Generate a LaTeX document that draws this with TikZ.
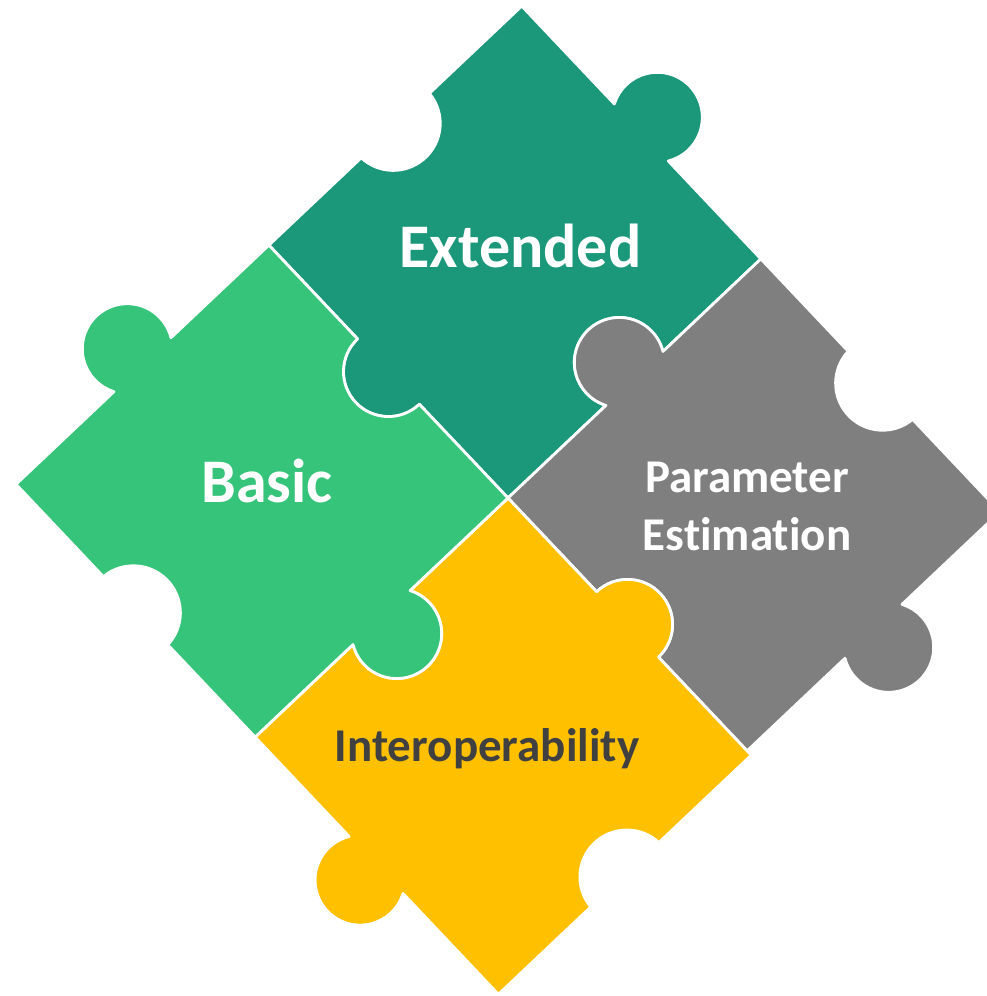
\documentclass[tikz,border=0pt]{standalone}
\usepackage{fontspec}
\setmainfont{Carlito}[Ligatures=NoCommon]
\definecolor{extteal}{HTML}{1B977A}
\definecolor{basicgreen}{HTML}{36C47A}
\definecolor{paramgray}{HTML}{7F7F7F}
\definecolor{interyellow}{HTML}{FFC000}
\definecolor{labeldark}{HTML}{404040}
\begin{document}
\begin{tikzpicture}[x=0.75pt,y=-0.75pt,
  piece/.style={draw=white, line width=2.1pt, line join=round},
  biglabel/.style={font=\bfseries\fontsize{46.5}{56}\selectfont, text=white, inner sep=0pt, anchor=base},
  smalllabel/.style={font=\bfseries\fontsize{35.25}{43.1}\selectfont, inner sep=0pt, anchor=base, align=center}]
\useasboundingbox (0,0) rectangle (987,996);
\clip (0,0) rectangle (987,996);
\coordinate (C) at (508,498);
% puzzle drawn in a square frame, tilted about 43 degrees
\begin{scope}[shift={(C)}, x={(0.54495pt,0.51533pt)}, y={(-0.51533pt,0.54495pt)}]
  % Extended
  \path[piece, fill=extteal] (0,0) -- (134.74,0) arc[start angle=209.27, end angle=-29.27, radius=45]
    -- (348,0) -- (348,134.74) arc[start angle=240.73, end angle=479.27, radius=45]
    -- (348,348) -- (220.9,348) arc[start angle=356.34, end angle=183.66, radius=47]
    -- (0,348) -- (0,219) arc[start angle=90, end angle=270, radius=45] -- cycle;
  % Parameter Estimation
  \path[piece, fill=paramgray] (0,-348) -- (134.74,-348) arc[start angle=150.73, end angle=389.27, radius=45]
    -- (348,-348) -- (348,-220.9) arc[start angle=266.34, end angle=93.66, radius=47]
    -- (348,0) -- (213.26,0) arc[start angle=330.73, end angle=569.27, radius=45]
    -- (0,0) -- (0,-129) arc[start angle=90, end angle=-90, radius=45] -- cycle;
  % Interoperability
  \path[piece, fill=interyellow] (-348,-354) -- (-220.9,-354) arc[start angle=176.34, end angle=3.66, radius=47]
    -- (0,-354) -- (0,-219) arc[start angle=270, end angle=450, radius=45]
    -- (0,0) -- (-134.74,0) arc[start angle=389.27, end angle=150.73, radius=45]
    -- (-348,0) -- (-348,-136.74) arc[start angle=420.73, end angle=659.27, radius=45] -- cycle;
  % Basic
  \path[piece, fill=basicgreen] (-348,0) -- (-213.26,0) arc[start angle=150.73, end angle=389.27, radius=45]
    -- (0,0) -- (0,129) arc[start angle=270, end angle=90, radius=45]
    -- (0,348) -- (-134.74,348) arc[start angle=330.73, end angle=569.27, radius=45]
    -- (-348,348) -- (-348,220.9) arc[start angle=446.34, end angle=273.66, radius=47] -- cycle;
\end{scope}
\node[biglabel] (ext) at (520.5,267.7) {Extended};
\node[biglabel] (basic) at (267.2,502.7) {Basic};
% base of a two-line node is the baseline of its last line
\node[smalllabel, text=white] (param) at (747,550) {Parameter\\Estimation};
\node[smalllabel, text=labeldark] (inter) at (487,761.7) {Interoperability};
\end{tikzpicture}
\end{document}
